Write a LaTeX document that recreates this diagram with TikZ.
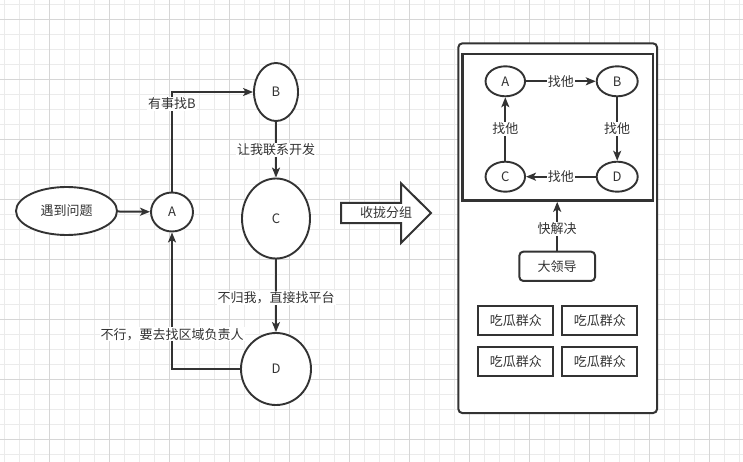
\documentclass[tikz,border=0pt]{standalone}
\usepackage{fontspec}
\setmainfont{Noto Sans CJK SC}
\usetikzlibrary{arrows.meta,shapes.geometric}
\definecolor{ink}{HTML}{333333}
\definecolor{gridminor}{HTML}{EBEBEB}
\definecolor{gridmajor}{HTML}{D6D6D6}
\begin{document}
\begin{tikzpicture}[x=1pt,y=-1pt,
  every node/.style={font=\fontsize{13}{15}\selectfont, text=ink},
  ell/.style={draw=ink, line width=1.9pt, fill=white, ellipse, inner sep=0pt},
  conn/.style={draw=ink, line width=2pt, -{Stealth[length=10pt,width=8pt,inset=2.5pt]}},
  lbl/.style={fill=white, inner sep=1pt},
  box/.style={draw=ink, line width=2pt, fill=white, minimum width=75, minimum height=29.3, inner sep=0pt}]
\fill[white] (0,0) rectangle (743,462);
\useasboundingbox (0,0) rectangle (743,462);
% grid
\foreach \i in {0,...,49} {
  \draw[gridminor, line width=0.8pt] (4.3+15*\i,0) -- ++(0,462);
}
\foreach \i in {0,...,30} {
  \draw[gridminor, line width=0.8pt] (0,4.3+15*\i) -- ++(743,0);
}
\foreach \i in {0,...,11} {
  \draw[gridmajor, line width=0.8pt] (49.3+60*\i,0) -- ++(0,462);
}
\foreach \i in {0,...,7} {
  \draw[gridmajor, line width=0.8pt] (0,19.3+60*\i) -- ++(743,0);
}
% left flow
\node[ell, minimum width=101, minimum height=48] (p) at (66.5,211) {遇到问题};
\node[ell, minimum width=42, minimum height=39] (A) at (172,212) {A};
\node[ell, minimum width=44, minimum height=58] (B) at (276,92) {B};
\node[ell, minimum width=68, minimum height=80] (C) at (276,218.5) {C};
\node[ell, minimum width=70, minimum height=72] (D) at (276,369) {D};
\draw[conn] (p) -- (A);
\draw[conn] (A) |- node[lbl, pos=0.44] {有事找B} (B);
\draw[conn] (B) -- node[lbl] {让我联系开发} (C);
\draw[conn] (C) -- node[lbl, pos=0.53] {不归我，直接找平台} (D);
\draw[conn] (D) -| node[lbl, pos=0.627] {不行，要去找区域负责人} (A);
% big arrow
\draw[draw=ink, line width=2pt, fill=white] (341,203) -- (401,203) -- (401,183.3) -- (431,213) -- (401,243) -- (401,223) -- (341,223) -- cycle;
\node (arrowtext) at (386,213) {收拢分组};
% right panel
\node[draw=ink, line width=2pt, fill=white, rounded corners=4pt, minimum width=198.7, minimum height=369.7, inner sep=0pt] (outer) at (557.7,228.2) {};
\node[draw=ink, line width=2.4pt, fill=white, minimum width=190.7, minimum height=146.7, inner sep=0pt] (grp) at (557.7,127.3) {};
\node[ell, minimum width=39.5, minimum height=30] (a2) at (505.3,81.3) {A};
\node[ell, minimum width=41, minimum height=30] (b2) at (617.2,81.3) {B};
\node[ell, minimum width=39.5, minimum height=30] (c2) at (505.3,176.7) {C};
\node[ell, minimum width=41, minimum height=30] (d2) at (617.2,176.7) {D};
\draw[conn] (a2) -- node[lbl] {找他} (b2);
\draw[conn] (b2) -- node[lbl] {找他} (d2);
\draw[conn] (d2) -- node[lbl] {找他} (c2);
\draw[conn] (c2) -- node[lbl] {找他} (a2);
\node[box, rounded corners=4pt, minimum width=75.7] (boss) at (557.2,266.3) {大领导};
\draw[conn] (boss.north) -- node[lbl, pos=0.45] {快解决} (boss.north |- grp.south);
\node[box] (g1) at (515.8,320.3) {吃瓜群众};
\node[box] (g2) at (599.8,320.3) {吃瓜群众};
\node[box] (g3) at (515.8,361.3) {吃瓜群众};
\node[box] (g4) at (599.8,361.3) {吃瓜群众};
\end{tikzpicture}
\end{document}
